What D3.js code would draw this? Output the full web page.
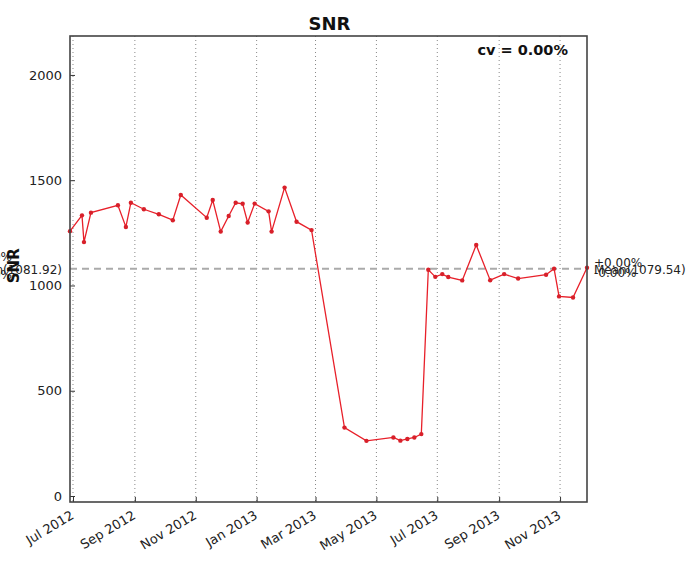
<!DOCTYPE html>
<html>
<head>
<meta charset="utf-8">
<script src="https://cdn.jsdelivr.net/npm/d3@7"></script>
<style>
  body { margin: 0; background: #fff; }
  text { font-family: "DejaVu Sans", sans-serif; }
</style>
</head>
<body>
<svg id="chart" width="697" height="565"></svg>
<script>
const dates = [
  "2012-06-28","2012-07-10","2012-07-12","2012-07-19","2012-08-15","2012-08-23","2012-08-28",
  "2012-09-10","2012-09-25","2012-10-09","2012-10-17","2012-11-12","2012-11-18","2012-11-26",
  "2012-12-04","2012-12-11","2012-12-18","2012-12-23","2012-12-30","2013-01-13","2013-01-16",
  "2013-01-29","2013-02-10","2013-02-25","2013-03-30","2013-04-21","2013-05-18","2013-05-25",
  "2013-06-01","2013-06-08","2013-06-15","2013-06-22","2013-06-29","2013-07-06","2013-07-12",
  "2013-07-26","2013-08-09","2013-08-23","2013-09-06","2013-09-20","2013-10-18","2013-10-26",
  "2013-10-31","2013-11-14","2013-11-28"
];
const snr = [
  1258,1333,1206,1346,1381,1278,1393,
  1362,1338,1310,1430,1322,1406,1256,
  1330,1393,1388,1299,1389,1352,1256,
  1465,1303,1263,325,262,278,263,
  271,278,294,1075,1041,1054,1040,
  1024,1192,1025,1054,1033,1051,1080,
  948,943,1084
];
const yTicks = [0, 500, 1000, 1500, 2000];
const meanValue = 1079.5;
const leftLabels = ["+0.00%", "-0.00%", "Median(1081.92)"];
const rightLabels = ["+0.00%", "-0.00%", "Mean(1079.54)"];
const titleText = "SNR";
const yLabel = "SNR";
const cvText = "cv = 0.00%";

const parse = d3.timeParse("%Y-%m-%d");
const data = dates.map((d, i) => ({ date: parse(d), value: snr[i] }));

const svg = d3.select("#chart");
const L = 70, R = 587, T = 36, B = 502;

const x = d3.scaleTime().domain(d3.extent(data, d => d.date)).range([L, R]);
const y = d3.scaleLinear().domain([-28.5, 2185]).range([B, T]);

// vertical dotted grid
const xt = x.ticks(d3.timeMonth.every(2));
svg.append("g").selectAll("line").data(xt).join("line")
  .attr("x1", d => x(d)).attr("x2", d => x(d))
  .attr("y1", T).attr("y2", B)
  .attr("stroke", "#888").attr("stroke-width", 1)
  .attr("stroke-dasharray", "1,3");

// mean dashed line
svg.append("line")
  .attr("x1", L).attr("x2", R)
  .attr("y1", y(meanValue)).attr("y2", y(meanValue))
  .attr("stroke", "#aaa").attr("stroke-width", 2)
  .attr("stroke-dasharray", "7,5");

// data line
const line = d3.line().x(d => x(d.date)).y(d => y(d.value));
svg.append("path").datum(data)
  .attr("d", line)
  .attr("fill", "none")
  .attr("stroke", "#e8202a")
  .attr("stroke-width", 1.3);
svg.append("g").selectAll("circle").data(data).join("circle")
  .attr("cx", d => x(d.date)).attr("cy", d => y(d.value))
  .attr("r", 2.2).attr("fill", "#d8202a");

// axes
const yAxis = d3.axisLeft(y).tickValues(yTicks).tickFormat(d3.format("d"))
  .tickSizeInner(-5).tickSizeOuter(0).tickPadding(8);
const gy = svg.append("g").attr("transform", `translate(${L},0)`).call(yAxis);
gy.select(".domain").remove();
gy.selectAll("text").attr("font-size", 13).attr("fill", "#222");
gy.selectAll("line").attr("stroke", "#333");

const xAxis = d3.axisBottom(x).tickValues(xt).tickFormat(d3.timeFormat("%b %Y"))
  .tickSizeInner(-5).tickSizeOuter(0).tickPadding(8);
const gx = svg.append("g").attr("transform", `translate(0,${B})`).call(xAxis);
gx.select(".domain").remove();
gx.selectAll("line").attr("stroke", "#333");
gx.selectAll("text")
  .attr("font-size", 13).attr("fill", "#222")
  .attr("text-anchor", "end")
  .attr("dy", "0.7em")
  .attr("transform", "rotate(-31)")
  .attr("x", -7).attr("y", 5);

// frame
svg.append("rect")
  .attr("x", L).attr("y", T).attr("width", R - L).attr("height", B - T)
  .attr("fill", "none").attr("stroke", "#444").attr("stroke-width", 1.6);

// title
svg.append("text").attr("x", (L + R) / 2 + 1).attr("y", 30)
  .attr("text-anchor", "middle").attr("font-size", 18).attr("font-weight", "bold")
  .attr("fill", "#111").text(titleText);

// cv
svg.append("text").attr("x", 568).attr("y", 55)
  .attr("text-anchor", "end").attr("font-size", 14.5).attr("font-weight", "bold")
  .attr("fill", "#111").text(cvText);

// left labels
const ym = y(meanValue);
svg.append("text").attr("x", 12).attr("y", ym - 8).attr("text-anchor", "end")
  .attr("font-size", 12).attr("fill", "#222").text(leftLabels[0]);
svg.append("text").attr("x", 12).attr("y", ym + 10).attr("text-anchor", "end")
  .attr("font-size", 12).attr("fill", "#222").text(leftLabels[1]);
svg.append("text").attr("x", 62).attr("y", ym + 5).attr("text-anchor", "end")
  .attr("font-size", 12).attr("fill", "#222").text(leftLabels[2]);

// right labels
svg.append("text").attr("x", 594).attr("y", ym - 2).attr("text-anchor", "start")
  .attr("font-size", 12).attr("fill", "#222").text(rightLabels[0]);
svg.append("text").attr("x", 594).attr("y", ym + 8).attr("text-anchor", "start")
  .attr("font-size", 12).attr("fill", "#222").text(rightLabels[1]);
svg.append("text").attr("x", 594).attr("y", ym + 5).attr("text-anchor", "start")
  .attr("font-size", 12).attr("fill", "#222").text(rightLabels[2]);

// y label
svg.append("text").attr("transform", `translate(19,${ym - 3}) rotate(-90)`)
  .attr("text-anchor", "middle").attr("font-size", 15).attr("font-weight", "bold")
  .attr("fill", "#111").text(yLabel);
</script>
</body>
</html>
